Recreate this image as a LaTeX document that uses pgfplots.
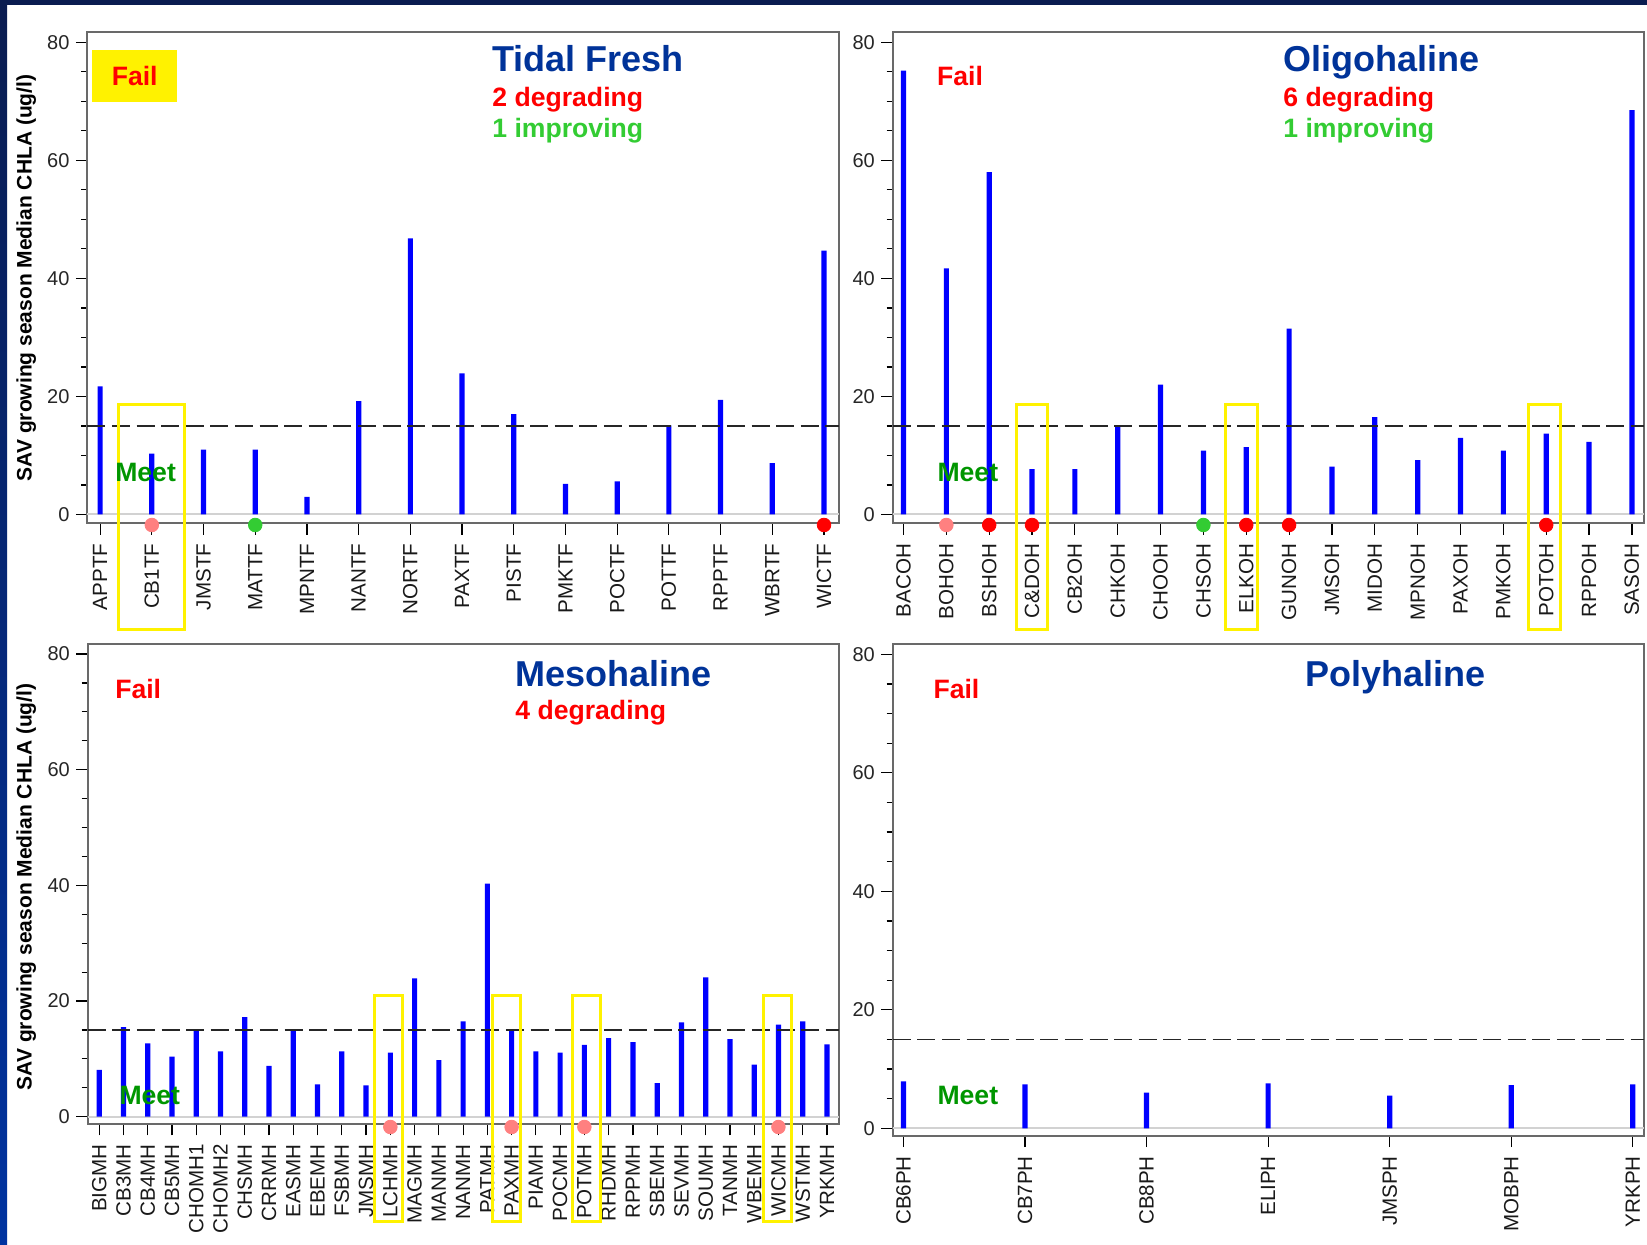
\documentclass[border=0pt]{standalone}
\usepackage{fontspec}
\setmainfont{Liberation Sans}
\usepackage{pgfplots}
\pgfplotsset{compat=1.18}

\definecolor{navy}{RGB}{10,28,80}
\definecolor{brightblue}{RGB}{0,51,160}
\definecolor{titleblue}{RGB}{0,51,153}
\definecolor{meetgreen}{RGB}{0,150,0}
\definecolor{impgreen}{RGB}{51,204,51}
\definecolor{pinkdot}{RGB}{255,128,128}
\definecolor{reddot}{RGB}{255,0,0}
\definecolor{greendot}{RGB}{51,204,51}
\definecolor{framegray}{RGB}{105,105,105}
\definecolor{zerogray}{RGB}{210,210,210}
\definecolor{barblue}{RGB}{0,0,255}

\newcommand\titlefont{\fontsize{18}{20}\selectfont\bfseries}
\newcommand\subfont{\fontsize{13.3}{15}\selectfont\bfseries}
\newcommand\ylabfont{\fontsize{10.5}{12}\selectfont\bfseries}

\tikzset{ybox/.style={draw=yellow, line width=1.5pt}}

\pgfplotsset{
  panel/.style={
    scale only axis,
    anchor=south west,
    clip=false,
    ytick={0,20,40,60,80},
    minor y tick num=3,
    tick align=outside,
    xtick pos=bottom,
    ytick pos=left,
    major tick length=5.7pt,
    minor tick length=3pt,
    every tick/.style={black, line width=0.6pt},
    axis line style={framegray, line width=1pt},
    xticklabel style={rotate=90, anchor=east, font=\fontsize{10.3}{12}\selectfont, text=black!90},
    yticklabel style={font=\fontsize{10}{12}\selectfont, text=black!85},
    /pgf/number format/assume math mode=true,
    xticklabel shift=1pt,
    yticklabel shift=-0.3pt,
  },
  bars/.style={ybar, bar width=2.6pt, fill=barblue, draw=none},
  thr/.style={black!85, line width=0.8pt, dash pattern=on 9pt off 3.3pt},
  zl/.style={zerogray, line width=1pt},
  dot/.style={only marks, mark=*, mark size=3.4pt},
}

\begin{document}
\begin{tikzpicture}
\useasboundingbox (0,0) rectangle (823.5pt,622.5pt);
\fill[white] (0,0) rectangle (823.5pt,622.5pt);
\shade[top color=navy, bottom color=brightblue] (0,0) rectangle (3.5pt,622.5pt);
\fill[navy] (0,620pt) rectangle (823.5pt,622.5pt);

% ---------------- Tidal Fresh ----------------
\begin{axis}[panel, at={(43.65pt,360.85pt)}, width=376pt, height=245.65pt,
  xmin=-0.248, xmax=14.296, ymin=-1.49, ymax=81.75,
  xtick={0,...,14},
  xticklabels={APPTF,CB1TF,JMSTF,MATTF,MPNTF,NANTF,NORTF,PAXTF,PISTF,PMKTF,POCTF,POTTF,RPPTF,WBRTF,WICTF}]
\addplot[zl] coordinates {(-0.248,0) (14.296,0)};
\addplot[bars] coordinates {
 (0,21.7) (1,10.3) (2,11.0) (3,11.0) (4,3.0) (5,19.2) (6,46.8) (7,23.9)
 (8,17.0) (9,5.2) (10,5.6) (11,15.1) (12,19.4) (13,8.7) (14,44.7)};
\addplot[thr] coordinates {(-0.248,15) (14.296,15)};
\addplot[dot, pinkdot] coordinates {(1,-1.78)};
\addplot[dot, greendot] coordinates {(3,-1.78)};
\addplot[dot, reddot] coordinates {(14,-1.78)};
\draw[ybox] (axis cs:0.36,-19.43) rectangle (axis cs:1.64,18.65);
\end{axis}

% ---------------- Oligohaline ----------------
\begin{axis}[panel, at={(446.35pt,360.85pt)}, width=375.8pt, height=245.65pt,
  xmin=-0.252, xmax=17.29, ymin=-1.49, ymax=81.75,
  xtick={0,...,17},
  xticklabels={BACOH,BOHOH,BSHOH,C\&DOH,CB2OH,CHKOH,CHOOH,CHSOH,ELKOH,GUNOH,JMSOH,MIDOH,MPNOH,PAXOH,PMKOH,POTOH,RPPOH,SASOH}]
\addplot[zl] coordinates {(-0.252,0) (17.29,0)};
\addplot[bars] coordinates {
 (0,75.2) (1,41.7) (2,58.0) (3,7.7) (4,7.7) (5,14.8) (6,22.0) (7,10.8) (8,11.4)
 (9,31.5) (10,8.1) (11,16.5) (12,9.2) (13,13.0) (14,10.8) (15,13.7) (16,12.3) (17,68.5)};
\addplot[thr] coordinates {(-0.252,15) (17.29,15)};
\addplot[dot, pinkdot] coordinates {(1,-1.78)};
\addplot[dot, reddot] coordinates {(2,-1.78) (3,-1.78) (8,-1.78) (9,-1.78) (15,-1.78)};
\addplot[dot, greendot] coordinates {(7,-1.78)};
\draw[ybox] (axis cs:2.63,-19.43) rectangle (axis cs:3.37,18.65);
\draw[ybox] (axis cs:7.52,-19.43) rectangle (axis cs:8.26,18.65);
\draw[ybox] (axis cs:14.59,-19.43) rectangle (axis cs:15.33,18.65);
\end{axis}

% ---------------- Mesohaline ----------------
\begin{axis}[panel, at={(43.85pt,60.5pt)}, width=375.8pt, height=239.85pt,
  xmin=-0.478, xmax=30.51, ymin=-1.26, ymax=81.68,
  xtick={0,...,30},
  xticklabels={BIGMH,CB3MH,CB4MH,CB5MH,CHOMH1,CHOMH2,CHSMH,CRRMH,EASMH,EBEMH,FSBMH,JMSMH,LCHMH,MAGMH,MANMH,NANMH,PATMH,PAXMH,PIAMH,POCMH,POTMH,RHDMH,RPPMH,SBEMH,SEVMH,SOUMH,TANMH,WBEMH,WICMH,WSTMH,YRKMH}]
\addplot[zl] coordinates {(-0.478,0) (30.51,0)};
\addplot[bars] coordinates {
 (0,8.1) (1,15.5) (2,12.7) (3,10.4) (4,14.8) (5,11.3) (6,17.2) (7,8.8) (8,15.1)
 (9,5.6) (10,11.3) (11,5.4) (12,11.1) (13,23.9) (14,9.8) (15,16.5) (16,40.3)
 (17,14.8) (18,11.3) (19,11.1) (20,12.4) (21,13.6) (22,12.9) (23,5.8) (24,16.3)
 (25,24.1) (26,13.4) (27,9.0) (28,15.9) (29,16.5) (30,12.5)};
\addplot[thr] coordinates {(-0.478,15) (30.51,15)};
\addplot[dot, pinkdot] coordinates {(12,-1.78) (17,-1.78) (20,-1.78) (28,-1.78)};
\draw[ybox] (axis cs:11.36,-18.2) rectangle (axis cs:12.52,20.9);
\draw[ybox] (axis cs:16.22,-18.2) rectangle (axis cs:17.38,20.9);
\draw[ybox] (axis cs:19.51,-18.2) rectangle (axis cs:20.67,20.9);
\draw[ybox] (axis cs:27.39,-18.2) rectangle (axis cs:28.55,20.9);
\end{axis}

% ---------------- Polyhaline ----------------
\begin{axis}[panel, at={(446.35pt,54.65pt)}, width=375.65pt, height=245.7pt,
  xmin=-0.089, xmax=6.093, ymin=-1.25, ymax=81.7,
  xtick={0,...,6},
  xticklabels={CB6PH,CB7PH,CB8PH,ELIPH,JMSPH,MOBPH,YRKPH}]
\addplot[zl] coordinates {(-0.089,0) (6.093,0)};
\addplot[bars] coordinates {
 (0,7.9) (1,7.4) (2,6.0) (3,7.6) (4,5.5) (5,7.3) (6,7.4)};
\addplot[thr] coordinates {(-0.089,15) (6.093,15)};
\end{axis}

% ---------------- annotations (pixel grid of the reference) ----------------
\begin{scope}[x=0.5pt, y=-0.5pt, shift={(0,622.5pt)}]
\fill[yellow] (92,50) rectangle (177,102);
\node[anchor=base, inner sep=0, text=red, font=\subfont] at (134.7,85.7) {Fail};
\node[anchor=base, inner sep=0, text=red, font=\subfont] at (960,85.7) {Fail};
\node[anchor=base, inner sep=0, text=red, font=\subfont] at (138.2,698.6) {Fail};
\node[anchor=base, inner sep=0, text=red, font=\subfont] at (956.4,698.6) {Fail};
\node[anchor=base, inner sep=0, text=meetgreen, font=\subfont] at (145.6,481.6) {Meet};
\node[anchor=base, inner sep=0, text=meetgreen, font=\subfont] at (967.8,481.6) {Meet};
\node[anchor=base, inner sep=0, text=meetgreen, font=\subfont] at (149.8,1104.5) {Meet};
\node[anchor=base, inner sep=0, text=meetgreen, font=\subfont] at (967.8,1104.5) {Meet};

\node[anchor=base west, inner sep=0, text=titleblue, font=\titlefont] at (492,71.4) {Tidal Fresh};
\node[anchor=base west, inner sep=0, text=red, font=\subfont] at (492,107) {2 degrading};
\node[anchor=base west, inner sep=0, text=impgreen, font=\subfont] at (492,138) {1 improving};

\node[anchor=base west, inner sep=0, text=titleblue, font=\titlefont] at (1283,71.4) {Oligohaline};
\node[anchor=base west, inner sep=0, text=red, font=\subfont] at (1283,107) {6 degrading};
\node[anchor=base west, inner sep=0, text=impgreen, font=\subfont] at (1283,138) {1 improving};

\node[anchor=base west, inner sep=0, text=titleblue, font=\titlefont] at (515,687) {Mesohaline};
\node[anchor=base west, inner sep=0, text=red, font=\subfont] at (515,720) {4 degrading};

\node[anchor=base west, inner sep=0, text=titleblue, font=\titlefont] at (1305,687) {Polyhaline};

\node[rotate=90, anchor=base, inner sep=0, font=\ylabfont] at (31.6,278) {SAV growing season Median CHLA (ug/l)};
\node[rotate=90, anchor=base, inner sep=0, font=\ylabfont] at (31.6,887) {SAV growing season Median CHLA (ug/l)};
\end{scope}
\end{tikzpicture}
\end{document}
